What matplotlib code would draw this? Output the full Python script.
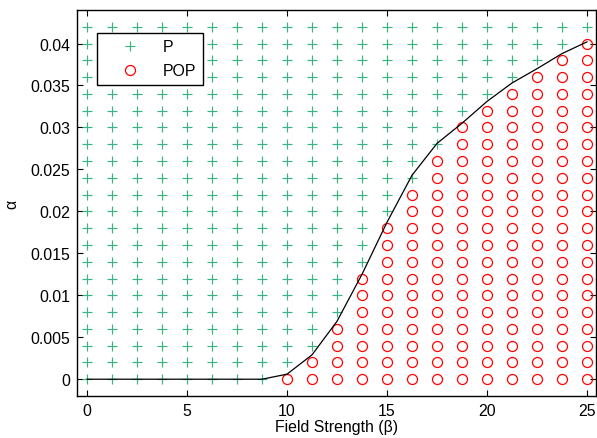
import numpy as np
import matplotlib
matplotlib.use('Agg')
from matplotlib import pyplot as plt

plt.rcParams['font.family'] = ['Liberation Sans', 'DejaVu Sans']

# sampled parameter grid
beta = [0, 1.25, 2.5, 3.75, 5, 6.25, 7.5, 8.75, 10, 11.25, 12.5,
        13.75, 15, 16.25, 17.5, 18.75, 20, 21.25, 22.5, 23.75, 25]
alpha = [0, 0.002, 0.004, 0.006, 0.008, 0.01, 0.012, 0.014, 0.016, 0.018, 0.02,
         0.022, 0.024, 0.026, 0.028, 0.03, 0.032, 0.034, 0.036, 0.038, 0.04, 0.042]

# largest alpha giving POP in each beta column (nan = none)
pop_max = [np.nan, np.nan, np.nan, np.nan, np.nan, np.nan, np.nan, np.nan,
           0, 0.002, 0.006, 0.012, 0.018, 0.022, 0.026, 0.030,
           0.032, 0.034, 0.036, 0.038, 0.040]

# transition curve
curve_beta = [0, 1.25, 2.5, 3.75, 5, 6.25, 7.5, 8.75, 10, 11.25, 12.5,
              13.75, 15, 16.25, 17.5, 18.75, 20, 21.25, 22.5, 23.75, 25]
curve_alpha = [0, 0, 0, 0, 0, 0, 0, 0, 0.0006, 0.0029, 0.0069,
               0.0125, 0.0187, 0.0243, 0.0281, 0.0305, 0.0331, 0.0353, 0.0370, 0.0388, 0.0402]

B, A = np.meshgrid(beta, alpha)
top = np.array(pop_max)[None, :] * np.ones_like(A)
is_pop = np.nan_to_num(top, nan=-1) >= A - 1e-9

fig = plt.figure(figsize=(5.97, 4.39), dpi=100)
ax = fig.add_axes([0.129, 0.0957, 0.8693, 0.8793])

ax.plot(B[~is_pop], A[~is_pop], '+', color='#3ab383', markersize=7.8, markeredgewidth=0.85, label='P')
ax.plot(B[is_pop], A[is_pop], 'o', color='red', markerfacecolor='none', markersize=7.2,
        markeredgewidth=0.9, label='POP')
ax.plot(curve_beta, curve_alpha, '-', color='black', linewidth=0.9)

ax.set_xlim(-0.5, 25.45)
ax.set_ylim(-0.002, 0.044)
ax.set_xticks([0, 5, 10, 15, 20, 25])
ax.set_yticks(np.arange(0, 0.0401, 0.005))
ax.set_yticklabels(['0', '0.005', '0.01', '0.015', '0.02', '0.025', '0.03', '0.035', '0.04'])
ax.tick_params(direction='in', top=True, right=True, length=4, width=0.8, labelsize=11.4, pad=5)
for s in ax.spines.values():
    s.set_linewidth(1.0)

ax.set_xlabel('Field Strength (β)', fontsize=11.4, labelpad=1)
ax.set_ylabel('α', fontsize=11.4, labelpad=8)

leg = ax.legend(loc='upper left', bbox_to_anchor=(0.038, 0.94), borderaxespad=0,
                fontsize=11.4, fancybox=False, edgecolor='black', framealpha=1,
                handlelength=3.36, handletextpad=0.44, borderpad=0.4, labelspacing=0.55)
leg.get_frame().set_linewidth(1.0)

plt.savefig('out.png', dpi=100)
